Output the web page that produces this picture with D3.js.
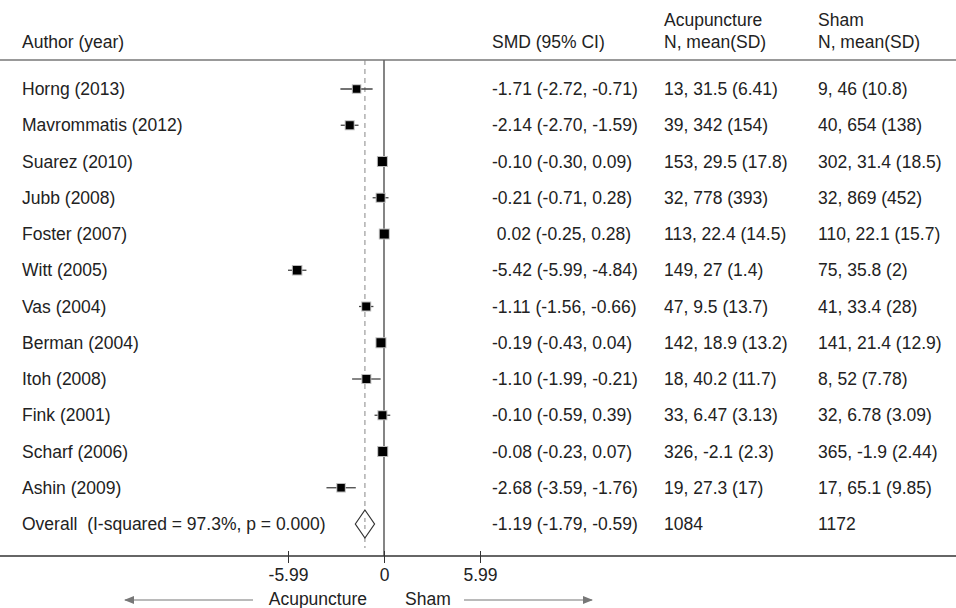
<!DOCTYPE html>
<html><head><meta charset="utf-8">
<script src="https://cdn.jsdelivr.net/npm/d3@7"></script>
<style>body{margin:0;background:#fff}svg{display:block}text{font-family:"Liberation Sans",Arial,sans-serif;font-size:17.5px;fill:#222}</style>
</head><body>
<script>
const studies = ["Horng (2013)","Mavrommatis (2012)","Suarez (2010)","Jubb (2008)","Foster (2007)","Witt (2005)","Vas (2004)","Berman (2004)","Itoh (2008)","Fink (2001)","Scharf (2006)","Ashin (2009)"];
const smd   = [-1.71,-2.14,-0.10,-0.21,0.02,-5.42,-1.11,-0.19,-1.10,-0.10,-0.08,-2.68];
const lower = [-2.72,-2.70,-0.30,-0.71,-0.25,-5.99,-1.56,-0.43,-1.99,-0.59,-0.23,-3.59];
const upper = [-0.71,-1.59,0.09,0.28,0.28,-4.84,-0.66,0.04,-0.21,0.39,0.07,-1.76];
const weights = [7.5,8,9,8,9,8.5,8,9,8,8,9,7.5];
const ciText = ["-1.71 (-2.72, -0.71)","-2.14 (-2.70, -1.59)","-0.10 (-0.30, 0.09)","-0.21 (-0.71, 0.28)"," 0.02 (-0.25, 0.28)","-5.42 (-5.99, -4.84)","-1.11 (-1.56, -0.66)","-0.19 (-0.43, 0.04)","-1.10 (-1.99, -0.21)","-0.10 (-0.59, 0.39)","-0.08 (-0.23, 0.07)","-2.68 (-3.59, -1.76)"];
const acuText = ["13, 31.5 (6.41)","39, 342 (154)","153, 29.5 (17.8)","32, 778 (393)","113, 22.4 (14.5)","149, 27 (1.4)","47, 9.5 (13.7)","142, 18.9 (13.2)","18, 40.2 (11.7)","33, 6.47 (3.13)","326, -2.1 (2.3)","19, 27.3 (17)"];
const shamText = ["9, 46 (10.8)","40, 654 (138)","302, 31.4 (18.5)","32, 869 (452)","110, 22.1 (15.7)","75, 35.8 (2)","41, 33.4 (28)","141, 21.4 (12.9)","8, 52 (7.78)","32, 6.78 (3.09)","365, -1.9 (2.44)","17, 65.1 (9.85)"];
const overall = {label:"Overall  (I-squared = 97.3%, p = 0.000)", est:-1.19, lo:-1.79, hi:-0.59, ci:"-1.19 (-1.79, -0.59)", acu:"1084", sham:"1172"};
const tickValues = [-5.99, 0, 5.99];
const tickLabels = ["-5.99", "0", "5.99"];

const W = 956, H = 608;
const svg = d3.select("body").append("svg").attr("width", W).attr("height", H);
const x = d3.scaleLinear().domain([-5.99, 5.99]).range([288, 480]);
const rows = studies.concat(["Overall"]);
const y = d3.scalePoint().domain(rows).range([89, 524]);
const colAuthor = 22, colCI = 492, colAcu = 664, colSham = 818;
const topY = 60, axisY = 556;

// headers
svg.append("text").attr("x", colAuthor).attr("y", 48).text("Author (year)");
svg.append("text").attr("x", colCI).attr("y", 48).text("SMD (95% CI)");
svg.append("text").attr("x", colAcu).attr("y", 26).text("Acupuncture");
svg.append("text").attr("x", colAcu).attr("y", 48).text("N, mean(SD)");
svg.append("text").attr("x", colSham).attr("y", 26).text("Sham");
svg.append("text").attr("x", colSham).attr("y", 48).text("N, mean(SD)");
svg.append("line").attr("x1", 0).attr("x2", W).attr("y1", topY).attr("y2", topY).attr("stroke", "#777").attr("stroke-width", 1.5);

// zero line
svg.append("line").attr("x1", x(0)).attr("x2", x(0)).attr("y1", topY).attr("y2", axisY).attr("stroke", "#666").attr("stroke-width", 1.6);
// overall dashed line
svg.append("line").attr("x1", x(overall.est)).attr("x2", x(overall.est)).attr("y1", topY).attr("y2", axisY - 8)
  .attr("stroke", "#888").attr("stroke-width", 1).attr("stroke-dasharray", "5,4");

// study rows
const g = svg.append("g");
studies.forEach((s, i) => {
  const yy = y(s);
  g.append("text").attr("x", colAuthor).attr("y", yy + 6).text(s);
  g.append("text").attr("x", colCI).attr("y", yy + 6).attr("xml:space", "preserve").style("white-space", "pre").text(ciText[i]);
  g.append("text").attr("x", colAcu).attr("y", yy + 6).text(acuText[i]);
  g.append("text").attr("x", colSham).attr("y", yy + 6).text(shamText[i]);
  g.append("line").attr("x1", x(lower[i])).attr("x2", x(upper[i])).attr("y1", yy).attr("y2", yy).attr("stroke", "#444").attr("stroke-width", 1.3);
  const sz = weights[i];
  g.append("rect").attr("x", x(smd[i]) - sz / 2 - 1).attr("y", yy - sz / 2 - 1).attr("width", sz + 2).attr("height", sz + 2).attr("fill", "#bbb");
  g.append("rect").attr("x", x(smd[i]) - sz / 2).attr("y", yy - sz / 2).attr("width", sz).attr("height", sz).attr("fill", "#000");
});

// overall row
const oy = y("Overall");
svg.append("text").attr("x", colAuthor).attr("y", oy + 6).attr("xml:space", "preserve").style("white-space", "pre").text(overall.label);
svg.append("text").attr("x", colCI).attr("y", oy + 6).text(overall.ci);
svg.append("text").attr("x", colAcu).attr("y", oy + 6).text(overall.acu);
svg.append("text").attr("x", colSham).attr("y", oy + 6).text(overall.sham);
svg.append("path").attr("d", `M${x(overall.lo)},${oy} L${x(overall.est)},${oy - 14} L${x(overall.hi)},${oy} L${x(overall.est)},${oy + 14} Z`)
  .attr("fill", "#fff").attr("stroke", "#333").attr("stroke-width", 1.2);
svg.append("line").attr("x1", x(overall.est)).attr("x2", x(overall.est)).attr("y1", oy - 6).attr("y2", oy + 6)
  .attr("stroke", "#888").attr("stroke-width", 1).attr("stroke-dasharray", "4,3");

// axis
svg.append("line").attr("x1", 0).attr("x2", W).attr("y1", axisY).attr("y2", axisY).attr("stroke", "#333").attr("stroke-width", 1.3);
const axis = d3.axisBottom(x).tickValues(tickValues).tickFormat((d, i) => tickLabels[i]).tickSize(12).tickPadding(6);
const ag = svg.append("g").attr("transform", `translate(0,${axisY - 5})`).call(axis);
ag.select(".domain").remove();
ag.selectAll(".tick line").attr("stroke", "#333");
ag.selectAll(".tick text").style("font-size", "17.5px").attr("fill", "#222").style("font-family", '"Liberation Sans",Arial,sans-serif');

// direction labels & arrows
svg.append("defs").append("marker").attr("id", "ah").attr("viewBox", "0 0 10 10").attr("refX", 9).attr("refY", 5)
  .attr("markerWidth", 10).attr("markerHeight", 10).attr("markerUnits", "userSpaceOnUse").attr("orient", "auto")
  .append("path").attr("d", "M0,1 L10,5 L0,9 Z").attr("fill", "#777");
svg.append("text").attr("x", 367).attr("y", 605).attr("text-anchor", "end").text("Acupuncture");
svg.append("text").attr("x", 405).attr("y", 605).text("Sham");
svg.append("line").attr("x1", 253).attr("x2", 125).attr("y1", 600).attr("y2", 600).attr("stroke", "#777").attr("stroke-width", 1.2).attr("marker-end", "url(#ah)");
svg.append("line").attr("x1", 464).attr("x2", 592).attr("y1", 600).attr("y2", 600).attr("stroke", "#777").attr("stroke-width", 1.2).attr("marker-end", "url(#ah)");
</script>
</body></html>
